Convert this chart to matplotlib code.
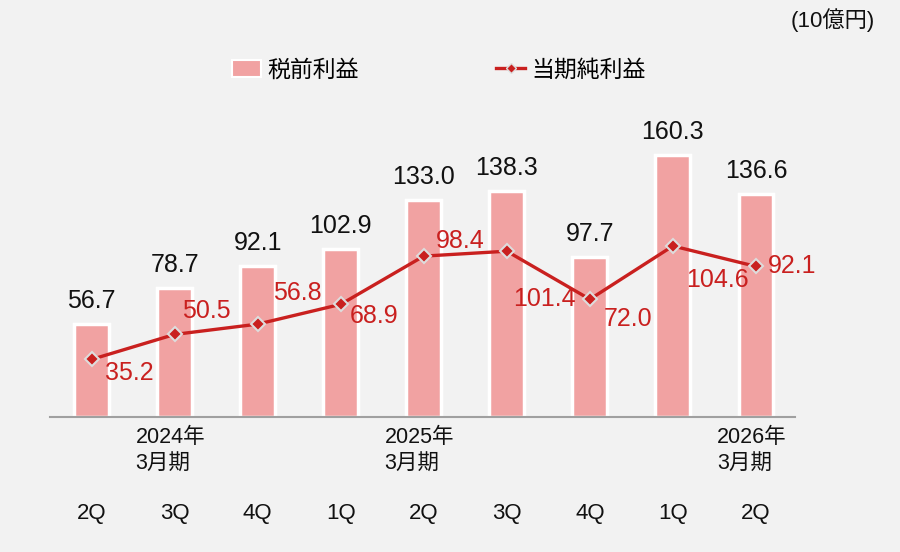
import matplotlib
matplotlib.use('Agg')
import matplotlib.pyplot as plt
from matplotlib.lines import Line2D
from matplotlib.patches import Patch

plt.rcParams['font.family'] = ['Liberation Sans', 'Noto Sans CJK JP', 'DejaVu Sans']

# データ (10億円)
quarters = ['2Q', '3Q', '4Q', '1Q', '2Q', '3Q', '4Q', '1Q', '2Q']
pretax_profit = [56.7, 78.7, 92.1, 102.9, 133.0, 138.3, 97.7, 160.3, 136.6]
net_profit = [35.2, 50.5, 56.8, 68.9, 98.4, 101.4, 72.0, 104.6, 92.1]
period_labels = {1: '2024年\n3月期', 4: '2025年\n3月期', 8: '2026年\n3月期'}

bar_color = '#F1A2A2'
line_color = '#C9201F'
bg = '#F2F2F2'

# ラベル位置のずらし (pixels)
net_offsets = [(38, -14), (32, 23), (40, 31), (33, -12), (37, 15),
               (38, -48), (38, -20), (45, -34), (36, 0)]

fig = plt.figure(figsize=(9, 5.52), dpi=100, facecolor=bg)
ax = fig.add_axes([50 / 900, (552 - 417) / 552, 745 / 900, 327 / 552])
ax.set_facecolor(bg)

x = list(range(len(quarters)))
ax.bar(x, pretax_profit, width=0.42, color=bar_color, edgecolor='white', linewidth=2.5, zorder=2)
ax.plot(x, net_profit, color=line_color, linewidth=2.4, marker='D', markersize=7,
        markerfacecolor=line_color, markeredgecolor='#DDDDDD', markeredgewidth=1.5, zorder=3)

for i, v in enumerate(pretax_profit):
    ax.annotate(f'{v:.1f}', (i, v), xytext=(0, 23), textcoords='offset pixels',
                ha='center', va='center', fontsize=18, color='#111111')

for i, v in enumerate(net_profit):
    dx, dy = net_offsets[i]
    ax.annotate(f'{v:.1f}', (i, v), xytext=(dx, dy), textcoords='offset pixels',
                ha='center', va='center', fontsize=18, color=line_color, zorder=4)

ax.set_xlim(-0.5, 8.47)
ax.set_ylim(0, 200)
for s in ['top', 'right', 'left']:
    ax.spines[s].set_visible(False)
ax.spines['bottom'].set_color('#A0A0A0')
ax.spines['bottom'].set_linewidth(1.5)
ax.set_yticks([])
ax.set_xticks(x)
ax.set_xticklabels([])
ax.tick_params(axis='x', length=0)

trans = ax.get_xaxis_transform()
for i, q in enumerate(quarters):
    ax.text(i, -96 / 327, q, transform=trans, ha='center', va='center', fontsize=16, color='#111111')
for i, lab in period_labels.items():
    ax.text(i - 0.47, -34 / 327, lab, transform=trans, ha='left', va='center', fontsize=15.5,
            color='#111111', linespacing=1.4)

fig.text(833 / 900, 1 - 20 / 552, '(10億円)', ha='center', va='center', fontsize=16, color='#111111')

handles = [Patch(facecolor=bar_color, edgecolor='white', linewidth=1.5),
           Line2D([0], [0], color=line_color, linewidth=2.4, marker='D', markersize=5,
                  markerfacecolor=line_color, markeredgecolor='#DDDDDD')]
fig.legend(handles, ['税前利益', '当期純利益'], loc='center', bbox_to_anchor=(439 / 900, 1 - 70 / 552),
           ncol=2, frameon=False, fontsize=16.5, columnspacing=6.0, handlelength=1.25,
           handletextpad=0.28)

fig.savefig('out.png', dpi=100, facecolor=bg)
